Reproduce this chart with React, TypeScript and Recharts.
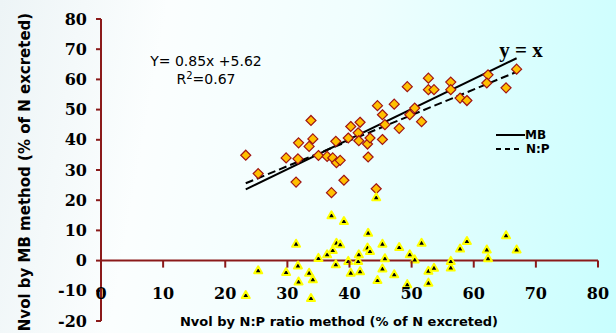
import { ComposedChart, Scatter, Line, XAxis, YAxis, ReferenceLine } from "recharts";

// one entry per sample
const NP_RATIO = [23.3, 25.3, 29.8, 31.4, 31.7, 31.8, 33.5, 34.1, 33.8, 35.0, 36.4, 37.1, 37.3, 37.8, 37.9, 38.5, 39.1, 39.8, 40.2, 41.4, 41.5, 41.7, 42.9, 43.0, 43.3, 44.3, 44.5, 45.3, 45.3, 45.7, 47.2, 48.0, 49.3, 49.7, 50.5, 51.6, 52.7, 52.7, 53.6, 56.3, 56.3, 57.8, 58.9, 62.3, 62.1, 65.2, 66.9];
const MB_METHOD = [34.9, 28.8, 34.0, 26.0, 33.7, 39.0, 37.8, 40.3, 46.4, 34.8, 34.5, 22.5, 34.0, 39.5, 32.4, 33.2, 26.6, 40.6, 44.4, 42.3, 39.7, 45.8, 38.6, 34.3, 40.6, 23.8, 51.3, 40.1, 48.3, 45.0, 51.8, 43.8, 57.6, 48.3, 50.5, 46.0, 60.4, 56.6, 56.6, 59.1, 56.6, 53.8, 53.0, 61.5, 58.8, 57.2, 63.4];
const DIFFERENCE = [-11.4, -3.2, -3.8, 5.6, -1.6, -6.9, -4.0, -6.2, -12.4, 0.9, 2.1, 15.0, 3.5, -1.2, 5.9, 5.4, 13.1, -0.1, -4.0, -0.1, 2.1, -3.5, 4.3, 9.2, 3.2, 21.0, -6.4, 5.6, -2.6, 0.8, -4.5, 4.5, -7.8, 2.1, 0.4, 5.9, -7.3, -3.4, -2.4, -2.3, -0.1, 4.0, 6.5, 0.8, 3.7, 8.4, 3.7];

// fitted lines, two end points each
const FIT_X = [23.3, 66.9];
const FIT_MB = [23.6, 67.0];
const FIT_NP = [25.6, 62.5];

const X_TICKS = [0, 10, 20, 30, 40, 50, 60, 70, 80];
const Y_TICKS = [-20, -10, 0, 10, 20, 30, 40, 50, 60, 70, 80];
const LEGEND = [
  { name: "MB", dash: undefined },
  { name: "N:P", dash: "5 4" },
];

const AXIS = "#8B1A1A";
const SERIF = "'DejaVu Serif', serif";
const SANS = "'DejaVu Sans', Verdana, sans-serif";
const PLOT_H = 302;
const ZERO_OFFSET = (PLOT_H * 20) / 100; // plot bottom is -20

const diamonds = NP_RATIO.map((x, i) => ({ x, y: MB_METHOD[i] }));
const triangles = NP_RATIO.map((x, i) => ({ x, y: DIFFERENCE[i] }));
const mbLine = FIT_X.map((x, i) => ({ x, y: FIT_MB[i] }));
const npLine = FIT_X.map((x, i) => ({ x, y: FIT_NP[i] }));

const Diamond = (p: any) => {
  const { cx, cy } = p;
  const r = 5;
  return (
    <polygon
      points={`${cx},${cy - r} ${cx + r},${cy} ${cx},${cy + r} ${cx - r},${cy}`}
      fill="#FFC000"
      stroke="#A01414"
      strokeWidth={1.2}
    />
  );
};

const Triangle = (p: any) => {
  const { cx, cy } = p;
  return (
    <polygon
      points={`${cx},${cy - 4} ${cx + 4},${cy + 3} ${cx - 4},${cy + 3}`}
      fill="#000"
      stroke="#FFFF00"
      strokeWidth={2}
      strokeLinejoin="round"
    />
  );
};

// x axis sits on y = 0, labels just under it
const XTick = (p: any) => {
  const { x, y, payload } = p;
  const zy = y - ZERO_OFFSET;
  return (
    <g>
      <line x1={x} x2={x} y1={zy} y2={zy + 7} stroke={AXIS} strokeWidth={2} />
      <text x={x} y={zy + 38} textAnchor="middle" fontFamily={SERIF} fontWeight="bold" fontSize={16} fill="#000">
        {payload.value}
      </text>
    </g>
  );
};

export default function App() {
  return (
    <div
      style={{
        position: "absolute",
        left: 0,
        top: 0,
        width: 616,
        height: 333,
        overflow: "hidden",
        background: "linear-gradient(100deg, #edf4f6 0%, #fbfefe 25%, #effefe 55%, #c8fefe 100%)",
      }}
    >
      <ComposedChart width={616} height={333} margin={{ top: 19, right: 18, bottom: 0, left: 41 }}>
        <XAxis
          type="number"
          dataKey="x"
          domain={[0, 80]}
          ticks={X_TICKS}
          axisLine={false}
          tickLine={false}
          tickSize={0}
          tickMargin={0}
          height={12}
          tick={<XTick />}
          interval={0}
        />
        <YAxis
          type="number"
          dataKey="y"
          domain={[-20, 80]}
          ticks={Y_TICKS}
          width={60}
          axisLine={{ stroke: AXIS, strokeWidth: 2 }}
          tickLine={{ stroke: AXIS, strokeWidth: 2 }}
          tickSize={5}
          tickMargin={9}
          interval={0}
          tick={{ fontFamily: SERIF, fontWeight: "bold", fontSize: 16, fill: "#000" }}
        />
        <ReferenceLine y={0} stroke={AXIS} strokeWidth={2} />
        <Scatter data={diamonds} dataKey="y" shape={<Diamond />} isAnimationActive={false} />
        <Scatter data={triangles} dataKey="y" shape={<Triangle />} isAnimationActive={false} />
        <Line data={mbLine} dataKey="y" name="MB" stroke="#000" strokeWidth={2} dot={false} isAnimationActive={false} />
        <Line data={npLine} dataKey="y" name="N:P" stroke="#000" strokeWidth={2} strokeDasharray="8 4" dot={false} isAnimationActive={false} />
      </ComposedChart>
      <svg width={616} height={333} style={{ position: "absolute", left: 0, top: 0, pointerEvents: "none" }}>
        <text
          transform="translate(25,172) rotate(-90)"
          textAnchor="middle"
          dominantBaseline="central"
          fontFamily={SANS}
          fontWeight="bold"
          fontSize={15}
        >
          Nvol by MB method (% of N excreted)
        </text>
        <text x={339} y={326} textAnchor="middle" fontFamily={SANS} fontWeight="bold" fontSize={13}>
          Nvol by N:P ratio method (% of N excreted)
        </text>
        <text x={206} y={66} textAnchor="middle" fontFamily={SANS} fontSize={14}>
          Y= 0.85x +5.62
        </text>
        <text x={206} y={84} textAnchor="middle" fontFamily={SANS} fontSize={14}>
          R<tspan dy={-5} fontSize={10}>2</tspan>
          <tspan dy={5}>=0.67</tspan>
        </text>
        <text x={521} y={57} textAnchor="middle" fontFamily="'Liberation Serif', serif" fontWeight="bold" fontSize={21}>
          y = x
        </text>
        {LEGEND.map((item, i) => (
          <g key={item.name}>
            <line
              x1={496}
              x2={item.dash ? 521 : 525}
              y1={135 + i * 14}
              y2={135 + i * 14}
              stroke="#000"
              strokeWidth={2}
              strokeDasharray={item.dash}
            />
            <text x={item.dash ? 526 : 525} y={139 + i * 14} fontFamily={SANS} fontWeight="bold" fontSize={12}>
              {item.name}
            </text>
          </g>
        ))}
      </svg>
    </div>
  );
}
